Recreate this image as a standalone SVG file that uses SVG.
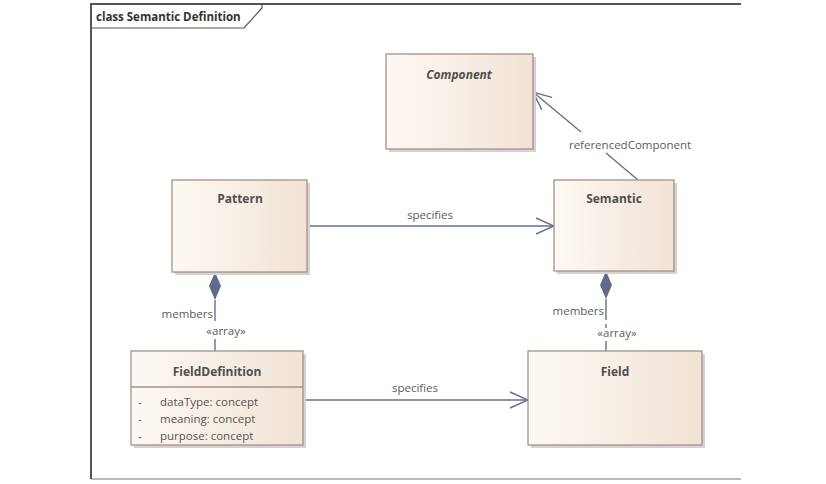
<svg xmlns="http://www.w3.org/2000/svg" width="826" height="484" viewBox="0 0 826 484">
<defs>
<linearGradient id="fill" x1="0" y1="0" x2="1" y2="0">
<stop offset="0" stop-color="#fdf9f4"/>
<stop offset="1" stop-color="#f1e3d5"/>
</linearGradient>
<marker id="open" viewBox="0 0 20 20" refX="19" refY="10" markerWidth="20" markerHeight="20" markerUnits="userSpaceOnUse" orient="auto">
<path d="M1,2 L19,10 L1,18" fill="none" stroke="#66708c" stroke-width="1.4"/>
</marker>
</defs>
<style>
.box{fill:url(#fill);stroke:#a8908a;stroke-width:1.3}
.shadow{fill:#d8d2ce}
.name{font-family:"Open Sans","Noto Sans",sans-serif;font-size:12px;font-weight:bold;fill:#4f4f4f;text-anchor:middle}
.attr{font-family:"Open Sans","Noto Sans",sans-serif;font-size:11.5px;fill:#555}
.lbl{font-family:"Open Sans","Noto Sans",sans-serif;font-size:11.5px;fill:#5c5c5c}
.ln{stroke:#66708c;stroke-width:1.4;fill:none}
</style>
<rect width="826" height="484" fill="#ffffff"/>
<g id="frame">
<path d="M91,479 V4 H741" fill="none" stroke="#555" stroke-width="2"/>
<path d="M91,479 H741" fill="none" stroke="#777" stroke-width="1.2"/>
<path d="M91,28 H244 L262,8 V4" fill="none" stroke="#555" stroke-width="1.2"/>
<text x="96" y="21" font-family="'Open Sans','Noto Sans',sans-serif" font-size="11.5" font-weight="bold" fill="#333">class Semantic Definition</text>
</g>
<g id="connectors">
<line class="ln" x1="307" y1="226" x2="554" y2="226" marker-end="url(#open)"/>
<text class="lbl" x="430" y="219" text-anchor="middle">specifies</text>
<line class="ln" x1="303" y1="400" x2="528" y2="400" marker-end="url(#open)"/>
<text class="lbl" x="415" y="392" text-anchor="middle">specifies</text>
<line class="ln" x1="638" y1="180" x2="606" y2="153"/>
<line class="ln" x1="581" y1="132" x2="533" y2="92" marker-end="url(#open)"/>
<text class="lbl" x="630" y="149" text-anchor="middle">referencedComponent</text>
<path d="M215,272 L221,286 L215,300 L209,286 Z" fill="#5f6a8a"/>
<line class="ln" x1="215" y1="300" x2="215" y2="321"/>
<line class="ln" x1="215" y1="339" x2="215" y2="351"/>
<text class="lbl" x="213" y="318" text-anchor="end">members</text>
<text class="lbl" x="226" y="335" text-anchor="middle">«array»</text>
<path d="M606,271 L612,285 L606,299 L600,285 Z" fill="#5f6a8a"/>
<line class="ln" x1="606" y1="299" x2="606" y2="320"/>
<line class="ln" x1="606" y1="324" x2="606" y2="328"/>
<line class="ln" x1="606" y1="341" x2="606" y2="351"/>
<text class="lbl" x="604" y="315" text-anchor="end">members</text>
<text class="lbl" x="617" y="337" text-anchor="middle">«array»</text>
</g>
<g id="Component">
<rect class="shadow" x="389" y="57" width="147" height="95"/>
<rect class="box" x="386" y="54" width="147" height="95"/>
<text class="name" x="459" y="79" font-style="italic">Component</text>
</g>
<g id="Pattern">
<rect class="shadow" x="175" y="183" width="135" height="92"/>
<rect class="box" x="172" y="180" width="135" height="92"/>
<text class="name" x="240" y="203">Pattern</text>
</g>
<g id="Semantic">
<rect class="shadow" x="557" y="183" width="120" height="91"/>
<rect class="box" x="554" y="180" width="120" height="91"/>
<text class="name" x="614" y="203">Semantic</text>
</g>
<g id="FieldDefinition">
<rect class="shadow" x="134" y="354" width="172" height="94"/>
<rect class="box" x="131" y="351" width="172" height="94"/>
<line x1="131" y1="387" x2="303" y2="387" stroke="#a8908a" stroke-width="1.3"/>
<text class="name" x="217" y="376">FieldDefinition</text>
<text class="attr" x="138" y="406">-</text>
<text class="attr" x="160" y="406">dataType: concept</text>
<text class="attr" x="138" y="423">-</text>
<text class="attr" x="160" y="423">meaning: concept</text>
<text class="attr" x="138" y="440">-</text>
<text class="attr" x="160" y="440">purpose: concept</text>
</g>
<g id="Field">
<rect class="shadow" x="531" y="354" width="174" height="94"/>
<rect class="box" x="528" y="351" width="174" height="94"/>
<text class="name" x="615" y="376">Field</text>
</g>
</svg>
